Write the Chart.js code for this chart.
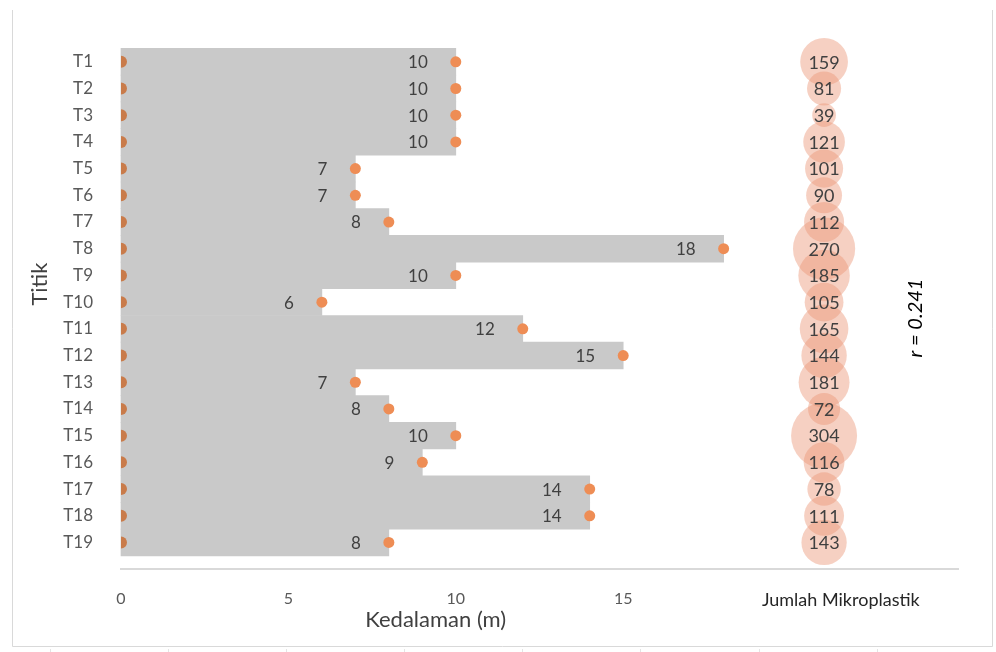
<!DOCTYPE html>
<html>
<head>
<meta charset="utf-8">
<script src="https://cdn.jsdelivr.net/npm/chart.js@4/dist/chart.umd.min.js"></script>
<style>
  html, body { margin: 0; padding: 0; background: #ffffff; }
  #wrap { width: 996px; height: 652px; position: relative; }
</style>
</head>
<body>
<div id="wrap"><canvas id="c" width="996" height="652"></canvas></div>
<script>
// Sampling points
const titik = ['T1','T2','T3','T4','T5','T6','T7','T8','T9','T10','T11','T12','T13','T14','T15','T16','T17','T18','T19'];
// Depth at each point (m)
const kedalaman = [10,10,10,10,7,7,8,18,10,6,12,15,7,8,10,9,14,14,8];
// Microplastic count at each point
const jumlahMikroplastik = [159,81,39,121,101,90,112,270,185,105,165,144,181,72,304,116,78,111,143];
// X axis ticks and the column label for the bubble column
const xTicks = [0,5,10,15];
const bubbleColumnX = 21;
const bubbleLabelX = 21.5;
const bubbleLabel = 'Jumlah Mikroplastik';
const xTitle = 'Kedalaman (m)';
const yTitle = 'Titik';
const corrLabel = 'r = 0.241';

const FONT = 'Lato, "Open Sans", sans-serif';
const MAX_R = 33;
const maxCount = Math.max(...jumlahMikroplastik);

const barData = kedalaman.map((v, i) => ({ x: v, y: i + 1 }));
const endDots = kedalaman.map((v, i) => ({ x: v, y: i + 1 }));
const startDots = kedalaman.map((v, i) => ({ x: 0, y: i + 1 }));
const bubbles = jumlahMikroplastik.map((v, i) => ({ x: bubbleColumnX, y: i + 1, r: MAX_R * Math.sqrt(v / maxCount), v: v }));

const annotate = {
  id: 'annotate',
  beforeDraw(chart) {
    const ctx = chart.ctx;
    ctx.save();
    ctx.fillStyle = '#ffffff';
    ctx.fillRect(0, 0, chart.width, chart.height);
    // frame around the chart
    ctx.strokeStyle = '#d9d9d9';
    ctx.lineWidth = 1;
    ctx.beginPath();
    ctx.moveTo(12.5, 10);
    ctx.lineTo(12.5, 646.5);
    ctx.lineTo(992.5, 646.5);
    ctx.lineTo(992.5, 10);
    ctx.stroke();
    // cell rules below the frame
    ctx.strokeStyle = '#e4e4e4';
    ctx.beginPath();
    [50, 168, 286, 404, 522, 640, 759, 877].forEach(x => {
      ctx.moveTo(x + 0.5, 649);
      ctx.lineTo(x + 0.5, 652);
    });
    ctx.stroke();
    ctx.restore();
  },
  afterDatasetsDraw(chart) {
    const ctx = chart.ctx;
    const xs = chart.scales.x, ys = chart.scales.y;
    ctx.save();
    ctx.fillStyle = '#404040';
    ctx.textBaseline = 'middle';
    // depth values next to the bar ends
    ctx.font = '17px ' + FONT;
    ctx.textAlign = 'right';
    kedalaman.forEach((v, i) => {
      ctx.fillText(String(v), xs.getPixelForValue(v) - 28, ys.getPixelForValue(i + 1) + 1);
    });
    // counts inside the bubbles
    ctx.font = '18px ' + FONT;
    ctx.textAlign = 'center';
    jumlahMikroplastik.forEach((v, i) => {
      ctx.fillText(String(v), xs.getPixelForValue(bubbleColumnX), ys.getPixelForValue(i + 1) + 1);
    });
    ctx.restore();
  },
  afterDraw(chart) {
    const ctx = chart.ctx;
    const xs = chart.scales.x, ys = chart.scales.y;
    ctx.save();
    ctx.fillStyle = '#404040';
    ctx.textAlign = 'center';
    ctx.textBaseline = 'middle';
    ctx.font = '22px ' + FONT;
    ctx.fillText(xTitle, xs.getPixelForValue(9.4), 620);
    ctx.save();
    ctx.translate(40, (ys.getPixelForValue(1) + ys.getPixelForValue(19)) / 2 - 18);
    ctx.rotate(-Math.PI / 2);
    ctx.fillText(yTitle, 0, 0);
    ctx.restore();
    ctx.save();
    ctx.fillStyle = '#000000';
    ctx.font = 'italic 20px ' + FONT;
    ctx.translate(916, 318);
    ctx.rotate(-Math.PI / 2);
    ctx.fillText(corrLabel, 0, 0);
    ctx.restore();
    ctx.restore();
  }
};

new Chart(document.getElementById('c'), {
  data: {
    datasets: [
      {
        type: 'bar',
        indexAxis: 'y',
        data: barData,
        backgroundColor: '#c9c9c9',
        borderWidth: 0,
        categoryPercentage: 1,
        barPercentage: 1,
        clip: false,
        order: 4
      },
      {
        type: 'bubble',
        data: bubbles,
        backgroundColor: 'rgba(234,150,120,0.45)',
        borderWidth: 0,
        clip: false,
        order: 3
      },
      {
        type: 'scatter',
        data: startDots,
        pointRadius: 6,
        pointBackgroundColor: '#c97b4a',
        pointBorderWidth: 0,
        clip: { left: 0, right: false, top: false, bottom: false },
        order: 2
      },
      {
        type: 'scatter',
        data: endDots,
        pointRadius: 5.5,
        pointBackgroundColor: '#ee8d55',
        pointBorderWidth: 0,
        clip: false,
        order: 1
      }
    ]
  },
  options: {
    responsive: false,
    animation: false,
    events: [],
    layout: { autoPadding: false, padding: { left: 0, right: 38, top: 36, bottom: 0 } },
    plugins: { legend: { display: false }, tooltip: { enabled: false } },
    scales: {
      x: {
        type: 'linear',
        min: 0,
        max: 25,
        grid: { display: false, drawTicks: false },
        border: { display: true, color: '#d9d9d9', width: 2 },
        afterBuildTicks(axis) {
          axis.ticks = xTicks.concat([bubbleLabelX]).map(v => ({ value: v }));
        },
        afterFit(axis) { axis.height = 83; },
        ticks: {
          padding: 20,
          maxRotation: 0,
          autoSkip: false,
          callback: v => (v === bubbleLabelX ? bubbleLabel : String(v)),
          color: c => (c.tick && c.tick.value === bubbleLabelX ? '#262626' : '#595959'),
          font: c => (c.tick && c.tick.value === bubbleLabelX
            ? { family: FONT, size: 18 }
            : { family: FONT, size: 16 })
        }
      },
      y: {
        type: 'linear',
        reverse: true,
        min: 0.64,
        max: 19.47,
        grid: { display: false, drawTicks: false },
        border: { display: false },
        afterBuildTicks(axis) {
          axis.ticks = titik.map((t, i) => ({ value: i + 1 }));
        },
        afterFit(axis) { axis.width = 121; },
        ticks: {
          autoSkip: false,
          padding: 28,
          color: '#595959',
          font: { family: FONT, size: 17 },
          callback: v => (v >= 1 && v <= titik.length ? titik[v - 1] : '')
        }
      }
    }
  },
  plugins: [annotate]
});
</script>
</body>
</html>
